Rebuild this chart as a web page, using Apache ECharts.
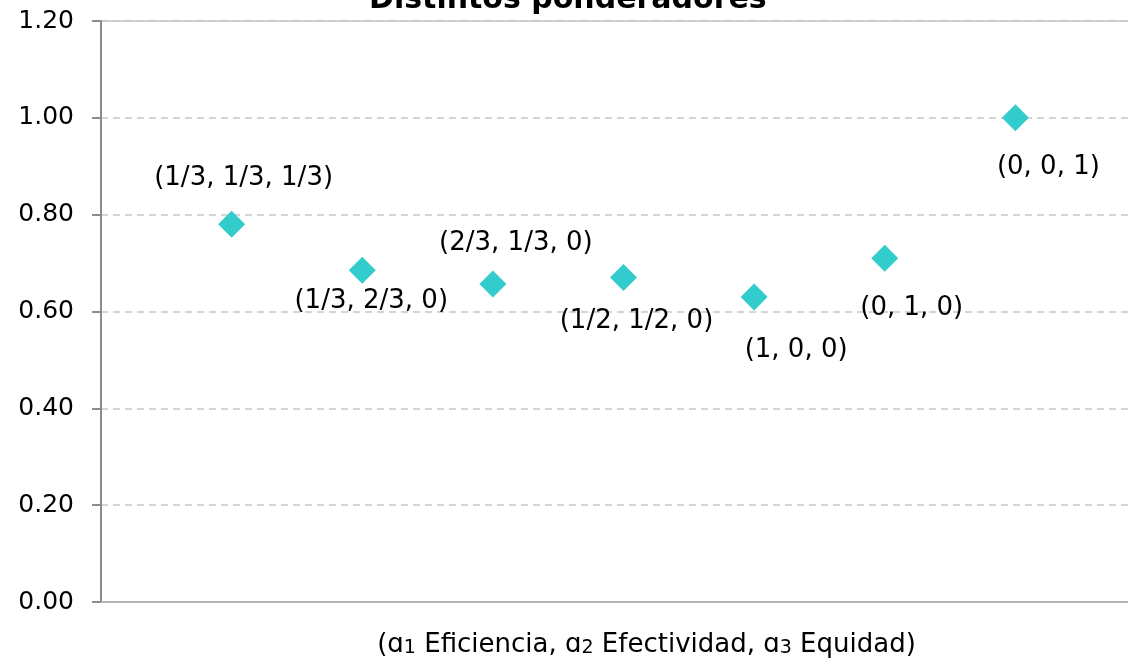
<!DOCTYPE html>
<html>
<head>
<meta charset="utf-8">
<script src="https://cdn.jsdelivr.net/npm/echarts@6/dist/echarts.min.js"></script>
<style>html,body{margin:0;padding:0;background:#fff}#c{width:1128px;height:662px}</style>
</head>
<body>
<div id="c"></div>
<script>
const titleText = 'Distintos ponderadores';
const axisTitleParts = ['(ɑ', '1', ' Eficiencia, ɑ', '2', ' Efectividad, ɑ', '3', ' Equidad)'];
const positions = [1, 2, 3, 4, 5, 6, 7];
const labels = ['(1/3, 1/3, 1/3)', '(1/3, 2/3, 0)', '(2/3, 1/3, 0)', '(1/2, 1/2, 0)', '(1, 0, 0)', '(0, 1, 0)', '(0, 0, 1)'];
const values = [0.78, 0.685, 0.657, 0.67, 0.63, 0.71, 1.00];
const yTicks = [0, 0.2, 0.4, 0.6, 0.8, 1.0, 1.2];

const labelOffsets = [[12,-46],[9,31],[23,-41],[13,44],[42,53],[27,50],[33,49]];
const FONT = '"DejaVu Sans", Verdana, sans-serif';

const axisName = axisTitleParts.map((p, i) => i % 2 === 1 ? '{s|' + p + '}' : '{n|' + p + '}').join('');

const chart = echarts.init(document.getElementById('c'), null, {renderer:'canvas'});
chart.setOption({
  animation: false,
  backgroundColor: '#fff',
  title: {
    text: titleText, left: 364, top: -20,
    textStyle: {fontFamily: FONT, fontSize: 30, fontWeight: 'bold', color: '#000'}
  },
  grid: {left: 101, width: 1045, top: 21, height: 581, containLabel: false, outerBoundsMode: 'none',
    show: true, borderColor: '#c4c4c4', borderWidth: 1.5},
  xAxis: {
    type: 'value', min: 0, max: 8,
    name: axisName, nameLocation: 'middle', nameGap: 30,
    nameTextStyle: {
      fontFamily: FONT, fontSize: 26, color: '#000', padding: [0, 0, 0, 46],
      rich: {
        n: {fontFamily: FONT, fontSize: 26, color: '#000'},
        s: {fontFamily: FONT, fontSize: 19, color: '#000', verticalAlign: 'bottom'}
      }
    },
    axisLine: {show: true, lineStyle: {color: '#b4b4b4', width: 2}},
    axisTick: {show: false}, axisLabel: {show: false}, splitLine: {show: false}
  },
  yAxis: {
    type: 'value', min: yTicks[0], max: yTicks[yTicks.length-1], interval: 0.2,
    axisLine: {show: true, lineStyle: {color: '#8c8c8c', width: 2}},
    axisTick: {show: true, length: 9, lineStyle: {color: '#8c8c8c', width: 2}},
    axisLabel: {fontFamily: FONT, fontSize: 25, color: '#000', margin: 27, formatter: v => v.toFixed(2)},
    splitLine: {show: true, lineStyle: {color: '#c8c8c8', type: [7, 5], width: 1.5}}
  },
  series: [{
    type: 'scatter',
    symbol: 'diamond', symbolSize: 27,
    itemStyle: {color: '#33CCCC', opacity: 1},
    data: positions.map((x, i) => ({
      value: [x, values[i]],
      label: {show: true, formatter: labels[i], position: 'inside', offset: labelOffsets[i],
        fontFamily: FONT, fontSize: 26, color: '#000'}
    }))
  }]
});
</script>
</body>
</html>
